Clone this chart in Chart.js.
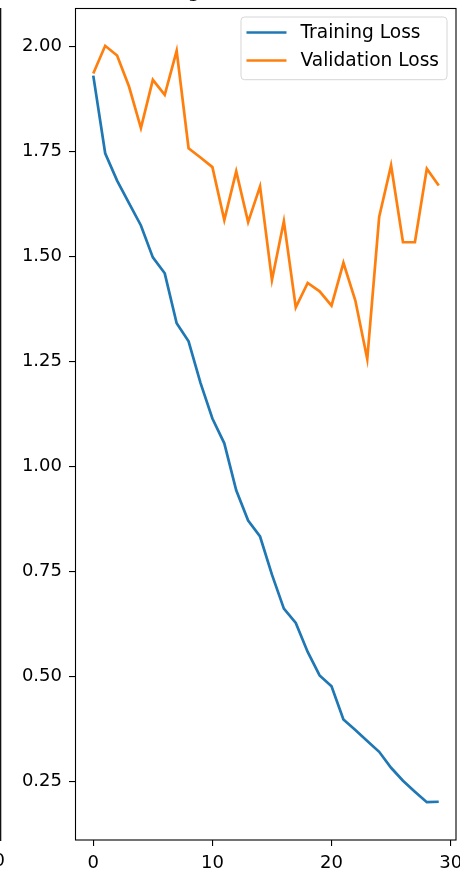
<!DOCTYPE html>
<html>
<head>
<meta charset="utf-8">
<script src="https://cdn.jsdelivr.net/npm/chart.js@4/dist/chart.umd.min.js"></script>
<style>
  html, body { margin: 0; padding: 0; background: #fff; overflow: hidden; }
  #wrap { position: relative; width: 460px; height: 872px; }
  canvas { display: block; }
</style>
</head>
<body>
<div id="wrap"><canvas id="lossChart" width="460" height="872"></canvas></div>
<script>
// Epoch indices along the x axis
const epochs = [0, 1, 2, 3, 4, 5, 6, 7, 8, 9, 10, 11, 12, 13, 14, 15, 16, 17, 18, 19, 20, 21, 22, 23, 24, 25, 26, 27, 28, 29];

// Loss per epoch
const trainingLoss = [1.931, 1.746, 1.681, 1.627, 1.574, 1.498, 1.460, 1.341, 1.298, 1.199,
                      1.114, 1.055, 0.943, 0.871, 0.833, 0.742, 0.661, 0.627, 0.558, 0.502,
                      0.476, 0.397, 0.372, 0.346, 0.320, 0.282, 0.251, 0.225, 0.200, 0.201];
const validationLoss = [1.936, 2.002, 1.979, 1.905, 1.806, 1.921, 1.885, 1.990, 1.758, 1.736,
                        1.713, 1.587, 1.703, 1.582, 1.667, 1.444, 1.584, 1.379, 1.437, 1.417,
                        1.383, 1.485, 1.395, 1.256, 1.594, 1.717, 1.534, 1.534, 1.709, 1.669];

// Tick positions and their labels
const xTicks = [0, 10, 20, 30];
const yTicks = [0.25, 0.50, 0.75, 1.00, 1.25, 1.50, 1.75, 2.00];
const yTickLabels = ['0.25', '0.50', '0.75', '1.00', '1.25', '1.50', '1.75', '2.00'];

const seriesNames = ['Training Loss', 'Validation Loss'];
const chartTitle = 'Training and Validation Loss';
const neighbourTickLabel = '30';

const FONT = 'DejaVu Sans';
const FS = 18;
const LEGEND_FS = 18.6;

// Axis ranges padded by 5% of the data span on each side
function paddedRange(values) {
  const lo = Math.min(...values), hi = Math.max(...values);
  const m = (hi - lo) * 0.05;
  return [lo - m, hi + m];
}
const [xMin, xMax] = paddedRange(epochs);
const [yMin, yMax] = paddedRange(trainingLoss.concat(validationLoss));

const toPoints = (vals) => epochs.map((e, i) => ({ x: e, y: vals[i] }));

// Frame around the plotting area plus the clipped title and neighbouring panel edge
const framePlugin = {
  id: 'frame',
  afterDatasetsDraw(chart) {
    const { ctx, chartArea: a } = chart;
    ctx.save();
    ctx.strokeStyle = '#000';
    ctx.lineWidth = 1.1;
    ctx.strokeRect(Math.round(a.left) - 0.5, Math.round(a.top) + 0.5,
                   Math.round(a.right - a.left) + 0.5, Math.round(a.bottom - a.top) - 0.5);

    // title sits above the top edge of the canvas, only the descender shows
    ctx.fillStyle = '#000';
    ctx.font = `${FS * 1.2}px "${FONT}"`;
    ctx.textAlign = 'center';
    ctx.textBaseline = 'alphabetic';
    ctx.fillText(chartTitle, (a.left + a.right) / 2, -3);

    // right spine and last tick label of the panel to the left
    ctx.fillStyle = '#111';
    ctx.fillRect(0, Math.round(a.top), 1.3, Math.round(a.bottom - a.top) + 1);
    ctx.font = `${FS}px "${FONT}"`;
    ctx.textAlign = 'right';
    ctx.textBaseline = 'top';
    ctx.fillStyle = '#000';
    ctx.fillText(neighbourTickLabel, 5, a.bottom + 12);
    ctx.restore();
  }
};

// Boxed legend in the upper right corner of the plotting area
const legendPlugin = {
  id: 'boxLegend',
  afterDraw(chart) {
    const { ctx, chartArea: a } = chart;
    const ds = chart.data.datasets;
    ctx.save();
    ctx.font = `${LEGEND_FS}px "${FONT}"`;
    const textW = Math.max(...ds.map(d => ctx.measureText(d.label).width));
    const padL = 5.5, handle = 40, gap = 14, padR = 8;
    const w = padL + handle + gap + textW + padR;
    const h = 62.7;
    const right = a.right - 0.5 * FS;
    const left = right - w;
    const top = a.top + 0.5 * FS;
    const r = 0.2 * FS;
    ctx.beginPath();
    ctx.moveTo(left + r, top);
    ctx.lineTo(right - r, top);
    ctx.arcTo(right, top, right, top + r, r);
    ctx.lineTo(right, top + h - r);
    ctx.arcTo(right, top + h, right - r, top + h, r);
    ctx.lineTo(left + r, top + h);
    ctx.arcTo(left, top + h, left, top + h - r, r);
    ctx.lineTo(left, top + r);
    ctx.arcTo(left, top, left + r, top, r);
    ctx.closePath();
    ctx.fillStyle = 'rgba(255,255,255,0.8)';
    ctx.fill();
    ctx.strokeStyle = '#d6d6d6';
    ctx.lineWidth = 1;
    ctx.stroke();

    ds.forEach((d, i) => {
      const y = top + 15.5 + i * 28;
      ctx.strokeStyle = d.borderColor;
      ctx.lineWidth = d.borderWidth;
      ctx.beginPath();
      ctx.moveTo(left + padL, y);
      ctx.lineTo(left + padL + handle, y);
      ctx.stroke();
      ctx.fillStyle = '#000';
      ctx.textAlign = 'left';
      ctx.textBaseline = 'middle';
      ctx.fillText(d.label, left + padL + handle + gap, y + 1);
    });
    ctx.restore();
  }
};

Chart.defaults.font.family = FONT;
Chart.defaults.font.size = FS;
Chart.defaults.color = '#000';

new Chart(document.getElementById('lossChart'), {
  type: 'line',
  data: {
    datasets: [
      {
        label: seriesNames[0],
        data: toPoints(trainingLoss),
        borderColor: '#1f77b4',
        backgroundColor: '#1f77b4',
        borderWidth: 2.7,
        pointRadius: 0,
        tension: 0,
        fill: false,
        order: 1
      },
      {
        label: seriesNames[1],
        data: toPoints(validationLoss),
        borderColor: '#ff7f0e',
        backgroundColor: '#ff7f0e',
        borderWidth: 2.7,
        pointRadius: 0,
        tension: 0,
        fill: false,
        order: 0
      }
    ]
  },
  options: {
    responsive: false,
    animation: false,
    devicePixelRatio: 1,
    layout: { padding: { top: 8, right: 4, left: 0, bottom: 0 } },
    plugins: {
      legend: { display: false },
      title: { display: false },
      tooltip: { enabled: false }
    },
    scales: {
      x: {
        type: 'linear',
        min: xMin,
        max: xMax,
        afterBuildTicks: (s) => { s.ticks = xTicks.map(v => ({ value: v })); },
        afterFit: (s) => { s.height = 32; s.paddingLeft = 0; s.paddingRight = 0; },
        grid: { drawOnChartArea: false, drawTicks: true, tickLength: 6, color: '#000', lineWidth: 1.1 },
        border: { display: false },
        ticks: {
          padding: 7,
          maxRotation: 0,
          autoSkip: false,
          color: '#000',
          font: { size: FS },
          callback: (v) => String(v)
        }
      },
      y: {
        type: 'linear',
        min: yMin,
        max: yMax,
        afterBuildTicks: (s) => { s.ticks = yTicks.map(v => ({ value: v })); },
        afterFit: (s) => { s.width = 76; s.paddingTop = 0; s.paddingBottom = 0; },
        grid: { drawOnChartArea: false, drawTicks: true, tickLength: 7, color: '#000', lineWidth: 1.1 },
        border: { display: false },
        ticks: {
          padding: 7,
          autoSkip: false,
          color: '#000',
          font: { size: FS },
          callback: (v) => yTickLabels[yTicks.indexOf(v)]
        }
      }
    }
  },
  plugins: [framePlugin, legendPlugin]
});
</script>
</body>
</html>
